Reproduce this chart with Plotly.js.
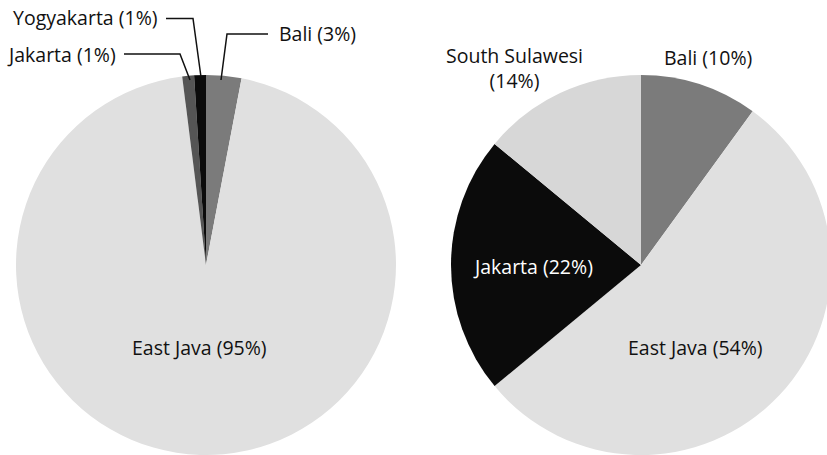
<!DOCTYPE html>
<html><head><meta charset="utf-8">
<script src="https://cdn.plot.ly/plotly-3.0.1.min.js"></script>
<style>html,body{margin:0;padding:0;overflow:hidden;background:#fff}#chart{width:840px;height:455px}</style>
</head><body><div id="chart"></div>
<script>
const leftLabels = ['Bali', 'East Java', 'Jakarta', 'Yogyakarta'];
const leftValues = [3, 95, 1, 1];
const leftColors = ['#7b7b7b', '#e0e0e0', '#555555', '#0b0b0b'];
const rightLabels = ['Bali', 'East Java', 'Jakarta', 'South Sulawesi'];
const rightValues = [10, 54, 22, 14];
const rightColors = ['#7b7b7b', '#e0e0e0', '#0b0b0b', '#d7d7d7'];

const W = 840, H = 455;
const px = x => x / W, py = y => 1 - y / H;
const FONT = '"Open Sans", sans-serif';
const lab = (l, v) => `${l} (${v}%)`;

const traces = [
  {type: 'pie', labels: leftLabels, values: leftValues, sort: false, direction: 'clockwise', rotation: 0,
   marker: {colors: leftColors, line: {width: 0}}, textinfo: 'none', hoverinfo: 'skip',
   domain: {x: [px(16), px(396)], y: [0, 380 / H]}, showlegend: false},
  {type: 'pie', labels: rightLabels, values: rightValues, sort: false, direction: 'clockwise', rotation: 0,
   marker: {colors: rightColors, line: {width: 0}}, textinfo: 'none', hoverinfo: 'skip',
   domain: {x: [px(451), px(831)], y: [0, 380 / H]}, showlegend: false}
];

function ann(text, x, y, xanchor, color) {
  return {text: text, x: px(x), y: py(y), xref: 'paper', yref: 'paper', xanchor: xanchor || 'center', yanchor: 'middle',
    showarrow: false, font: {family: FONT, size: 19.5, color: color || '#111111'}};
}
const annotations = [
  ann(lab(leftLabels[3], leftValues[3]), 160, 18, 'right'),
  ann(lab(leftLabels[2], leftValues[2]), 118, 54, 'right'),
  ann(lab(leftLabels[0], leftValues[0]), 277, 34, 'left'),
  ann(lab(leftLabels[1], leftValues[1]), 199, 347),
  ann(rightLabels[3] + '<br>(' + rightValues[3] + '%)', 514, 68),
  ann(lab(rightLabels[0], rightValues[0]), 708, 57),
  ann(lab(rightLabels[2], rightValues[2]), 533, 266, 'center', '#ffffff'),
  ann(lab(rightLabels[1], rightValues[1]), 695, 347)
];
function line(pts) {
  return {type: 'path', xref: 'paper', yref: 'paper',
    path: pts.map((p, i) => (i ? 'L' : 'M') + px(p[0]) + ',' + py(p[1])).join(' '),
    line: {color: '#111', width: 1.5}};
}
const shapes = [
  line([[166, 18.5], [193, 18.5], [201, 77]]),
  line([[124, 54], [180, 54], [190, 80]]),
  line([[268, 34], [227, 34], [221, 80]])
];

Plotly.newPlot('chart', traces, {
  width: W, height: H, margin: {l: 0, r: 0, t: 0, b: 0},
  paper_bgcolor: '#fff', plot_bgcolor: '#fff', showlegend: false,
  annotations: annotations, shapes: shapes
}, {displayModeBar: false, staticPlot: true});
</script></body></html>
